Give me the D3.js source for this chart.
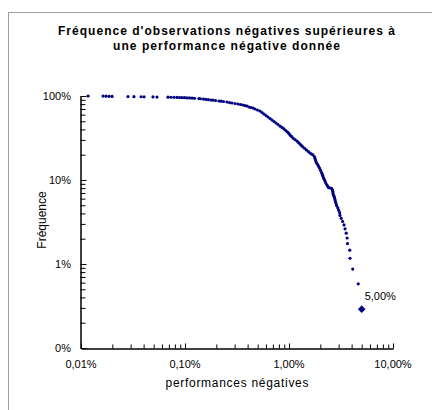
<!DOCTYPE html>
<html><head><meta charset="utf-8">
<script src="https://cdn.jsdelivr.net/npm/d3@7"></script>
<style>body{margin:0;background:#fff}svg{display:block}text{font-family:Arial,"Liberation Sans",sans-serif;fill:#000}</style>
</head><body>
<script>
// performance négative (%) de chaque observation, et fréquence (%) des observations supérieures
const performances = [
0.0117,0.0163,0.0174,0.0186,0.0199,0.0283,0.0323,0.0378,0.0404,0.0492,0.0538,
0.0686,0.0733,0.0784,0.0838,0.0886,0.0935,0.0989,0.1045,0.1105,0.117,0.1234,0.136,0.141,
0.1506,0.159,0.168,0.178,0.186,0.1965,0.212,0.222,0.2345,0.253,0.268,0.283,0.303,0.323,0.342,
0.361,0.378,0.395,0.412,0.431,0.451,0.471,0.498,0.526,0.550,0.575,0.601,0.628,0.657,0.686,
0.718,0.750,0.784,0.819,0.856,0.895,0.932,0.967,0.996,1.022,1.057,1.093,1.142,1.194,1.234,
1.276,1.319,1.363,1.419,1.473,1.533,1.592,1.646,1.701,1.759,1.778,1.803,1.830,1.879,1.921,
1.965,2.009,2.054,2.090,2.113,2.142,2.180,2.220,2.259,2.309,2.346,2.398,2.479,2.563,2.620,
2.637,2.649,2.667,2.708,2.739,2.769,2.800,2.831,2.869,2.946,3.00,3.07,
3.09,3.18,3.28,3.38,3.46,3.55,3.62,3.65,3.84,3.86,4.10,4.63,5.00];
const frequences = [
100,99.7,99.4,99.1,98.8,98.5,98.3,98.0,97.7,97.4,97.1,
96.8,96.6,96.4,96.2,96.0,95.8,95.5,95.2,94.9,94.5,94.0,93.3,92.7,
91.9,91.1,90.4,89.6,89.1,88.4,87.2,86.7,86.0,84.8,83.6,82.5,81.4,80.3,79.2,
78.1,77.0,76.0,74.0,73.0,72.0,70.0,68.1,66.3,63.6,61.0,58.6,56.2,54.0,51.8,
49.7,47.7,45.8,43.9,42.2,40.5,38.8,37.3,35.8,34.3,33.0,31.6,30.3,29.1,27.9,
26.8,25.7,24.7,23.7,22.76,21.8,20.96,20.4,19.86,18.9,18.0,17.1,16.2,15.4,14.6,
13.9,13.1,12.29,11.66,11.22,10.71,10.2,9.73,9.21,8.75,8.48,8.16,8.03,7.95,7.58,
7.29,7.00,6.70,6.41,6.12,5.83,5.54,5.25,4.96,4.66,4.37,4.08,
3.79,3.50,3.21,2.92,2.62,2.33,2.04,1.75,1.46,1.17,0.87,0.58,0.29];
const xTickValues = [0.01,0.1,1,10];
const xTickLabels = ["0,01%","0,10%","1,00%","10,00%"];
const yTickValues = [0.1,1,10,100];
const yTickLabels = ["0%","1%","10%","100%"];
const titleLines = ["Fréquence d'observations négatives supérieures à","une performance négative donnée"];
const xTitle = "performances négatives";
const yTitle = "Fréquence";
const highlightLabel = "5,00%";

const W=432,H=410;
const svg=d3.select("body").append("svg").attr("width",W).attr("height",H);
svg.append("rect").attr("x",8.5).attr("y",12.5).attr("width",500).attr("height",500)
  .attr("fill","#fff").attr("stroke","#a0a0a0").attr("stroke-width",1);

const x=d3.scaleLog().domain([0.01,10]).range([81,393]);
const y=d3.scaleLog().domain([0.1,100]).range([348,96]);

const minorX=[];[0.01,0.1,1].forEach(d=>{for(let k=2;k<=9;k++)minorX.push(d*k);});
const minorY=[];[0.1,1,10].forEach(d=>{for(let k=2;k<=9;k++)minorY.push(d*k);});

// x axis
const gx=svg.append("g").attr("transform","translate(0,348.5)");
gx.call(d3.axisBottom(x).tickValues(minorX).tickSize(-4).tickSizeOuter(0).tickFormat(""));
gx.append("g").call(d3.axisBottom(x).tickValues(xTickValues).tickSize(-5).tickSizeOuter(0).tickFormat(""));
gx.selectAll("path.domain").attr("stroke","#000");
gx.selectAll("line").attr("stroke","#000");
svg.append("g").selectAll("text").data(xTickValues).join("text")
  .attr("x",d=>x(d)).attr("y",368).attr("text-anchor","middle").attr("font-size",11)
  .text((d,i)=>xTickLabels[i]);

// y axis
const gy=svg.append("g").attr("transform","translate(80.5,0)");
gy.call(d3.axisLeft(y).tickValues(minorY).tickSize(-5).tickSizeOuter(0).tickFormat(""));
gy.append("g").call(d3.axisLeft(y).tickValues(yTickValues).tickSize(-6).tickSizeOuter(0).tickFormat(""));
gy.selectAll("path.domain").attr("stroke","#000");
gy.selectAll("line").attr("stroke","#000");
svg.append("g").selectAll("text").data(yTickValues).join("text")
  .attr("x",71).attr("y",d=>y(d)+4).attr("text-anchor","end").attr("font-size",11)
  .text((d,i)=>yTickLabels[i]);

// titles
const titleWidths=[337,227];
svg.append("g").selectAll("text").data(titleLines).join("text")
  .attr("x",(d,i)=>226.5-titleWidths[i]/2).attr("y",(d,i)=>35+i*15)
  .attr("textLength",(d,i)=>titleWidths[i]).attr("lengthAdjust","spacing")
  .attr("font-size",12).attr("font-weight","bold").text(d=>d);
svg.append("text").attr("x",237-71.5).attr("y",387).attr("textLength",143).attr("lengthAdjust","spacing")
  .attr("font-size",12).text(xTitle);
svg.append("text").attr("transform","translate(46,220) rotate(-90)").attr("text-anchor","middle").attr("font-size",12).text(yTitle);

// points
const pts=performances.map((p,i)=>({p,f:frequences[i]}));
svg.append("g").selectAll("circle").data(pts.slice(0,-1)).join("circle")
  .attr("cx",d=>x(d.p)).attr("cy",d=>y(d.f)).attr("r",1.6).attr("fill","#000080");
const last=pts[pts.length-1];
svg.append("path").attr("d","M0,-3.8L3.8,0L0,3.8L-3.8,0Z")
  .attr("transform",`translate(${x(last.p)},${y(last.f)})`).attr("fill","#000080");
svg.append("text").attr("x",x(last.p)+3).attr("y",y(last.f)-9).attr("font-size",11).text(highlightLabel);
</script>
</body></html>
